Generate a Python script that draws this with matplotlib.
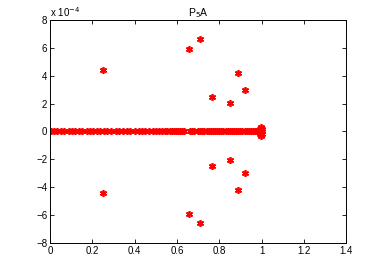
import matplotlib
matplotlib.use("Agg")
import matplotlib.pyplot as plt
import numpy as np

plt.rcParams['font.family'] = ['Liberation Sans', 'DejaVu Sans']

# Real eigenvalues (on the real axis)
real_eigs = [0.005, 0.02, 0.035, 0.05, 0.065, 0.09, 0.105, 0.12, 0.135, 0.15,
             0.175, 0.19, 0.205, 0.22, 0.235, 0.255, 0.27, 0.29, 0.31, 0.325,
             0.345, 0.365, 0.38, 0.40, 0.42, 0.435, 0.45, 0.47, 0.485, 0.50,
             0.515, 0.53, 0.545, 0.555, 0.565, 0.575, 0.585, 0.595, 0.605, 0.615,
             0.625, 0.635, 0.66, 0.67, 0.68, 0.70, 0.71, 0.72, 0.73, 0.74,
             0.75, 0.76, 0.77, 0.78, 0.79, 0.80, 0.81, 0.82, 0.83, 0.84,
             0.85, 0.86, 0.87, 0.88, 0.89, 0.90, 0.91, 0.92, 0.93, 0.94,
             0.95, 0.96, 0.97, 0.975, 0.98, 0.985, 0.99, 0.995, 1.0]

# Complex-conjugate eigenvalues (real part, imaginary part in 1e-4)
cplx_re = [0.25, 0.655, 0.71, 0.765, 0.85, 0.89, 0.92, 0.995, 0.998, 1.0]
cplx_im = [4.4, 5.95, 6.6, 2.5, 2.05, 4.2, 2.95, 0.15, 0.3, 0.2]

fig = plt.figure(figsize=(3.82, 2.73), dpi=100)
ax = fig.add_axes([0.131, 0.110, 0.775, 0.817])

re = list(real_eigs) + cplx_re + cplx_re
im = [0.0] * len(real_eigs) + [v * 1e-4 for v in cplx_im] + [-v * 1e-4 for v in cplx_im]
ax.plot(re, im, linestyle='none', marker=(6, 2, 0), color='red', markersize=5, markeredgewidth=1.2)

ax.set_xlim(0, 1.4)
ax.set_ylim(-8e-4, 8e-4)
ax.set_xticks(np.arange(0, 1.41, 0.2))
ax.set_xticklabels(['0', '0.2', '0.4', '0.6', '0.8', '1', '1.2', '1.4'])
ax.set_yticks(np.arange(-8e-4, 8.1e-4, 2e-4))
ax.set_yticklabels(['−8', '−6', '−4', '−2', '0', '2', '4', '6', '8'])
ax.tick_params(direction='in', top=True, right=True, labelsize=7, length=3, width=0.6, pad=2)
for s in ax.spines.values():
    s.set_linewidth(0.7)
ax.text(0, 1.005, 'x 10$^{-4}$', transform=ax.transAxes, fontsize=7, ha='left', va='bottom')
ax.set_title('P$_5$A', fontsize=7.5, pad=3)

fig.savefig('out.png', dpi=100)
